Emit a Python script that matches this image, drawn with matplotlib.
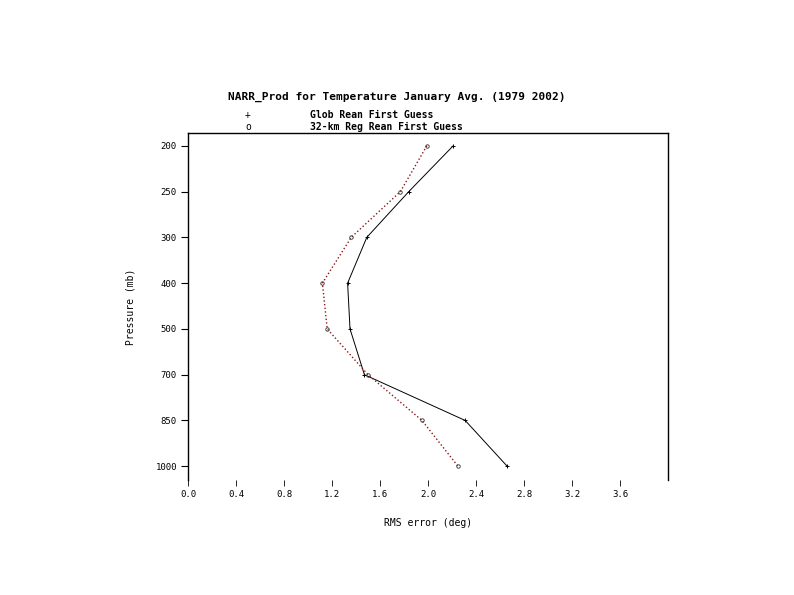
import matplotlib
matplotlib.use('Agg')
import matplotlib.pyplot as plt

# pressure levels (mb), plotted as evenly spaced categories
levels = ['200', '250', '300', '400', '500', '700', '850', '1000']
glob_rmse = [2.21, 1.84, 1.49, 1.33, 1.35, 1.47, 2.31, 2.66]
reg_rmse = [1.99, 1.77, 1.36, 1.12, 1.16, 1.50, 1.95, 2.25]
xticks = [0.0, 0.4, 0.8, 1.2, 1.6, 2.0, 2.4, 2.8, 3.2, 3.6]

mono = 'DejaVu Sans Mono'

fig = plt.figure(figsize=(7.94, 5.95), dpi=100)
ax1 = fig.add_axes([0.2368, 0.1933, 0.6045, 0.5832])

pos = list(range(len(levels)))
ax1.plot(glob_rmse, pos, 'k-', lw=0.7, marker='+', ms=3.5, mew=0.7)
ax1.plot(reg_rmse, pos, color='#8b1a1a', ls=':', lw=1.0, marker='o', ms=2.5,
         mfc='none', mec='#333333', mew=0.6)

ax1.set_xlim(0, 4.0)
ax1.set_ylim(7.3, -0.28)
ax1.set_yticks(pos)
ax1.set_yticklabels(levels, family=mono, fontsize=6.5)
ax1.set_xticks(xticks)
ax1.set_xticklabels(['%.1f' % v for v in xticks], family=mono, fontsize=6.5)
ax1.tick_params(axis='y', direction='out', length=5, width=0.8, pad=3)
ax1.tick_params(axis='x', direction='out', length=4, width=0.6, pad=3)
ax1.spines['bottom'].set_visible(False)
for s in ['left', 'right', 'top']:
    ax1.spines[s].set_linewidth(1.0)

ax1.set_xlabel('RMS error (deg)', family=mono, fontsize=7, labelpad=14)
ax1.set_ylabel('Pressure (mb)', family=mono, fontsize=7, labelpad=14)

fig.text(0.5, 1 - 97/595., 'NARR_Prod for Temperature January Avg. (1979 2002)',
         family=mono, fontsize=8, weight='bold', ha='center', va='center')
fig.text(248/794., 1 - 115/595., '+', family=mono, fontsize=7, ha='center', va='center')
fig.text(310/794., 1 - 115/595., 'Glob Rean First Guess', family=mono, fontsize=7,
         weight='bold', ha='left', va='center')
fig.text(248/794., 1 - 127/595., 'o', family=mono, fontsize=7, ha='center', va='center')
fig.text(310/794., 1 - 127/595., '32-km Reg Rean First Guess', family=mono, fontsize=7,
         weight='bold', ha='left', va='center')

plt.savefig('out.png', dpi=100)
